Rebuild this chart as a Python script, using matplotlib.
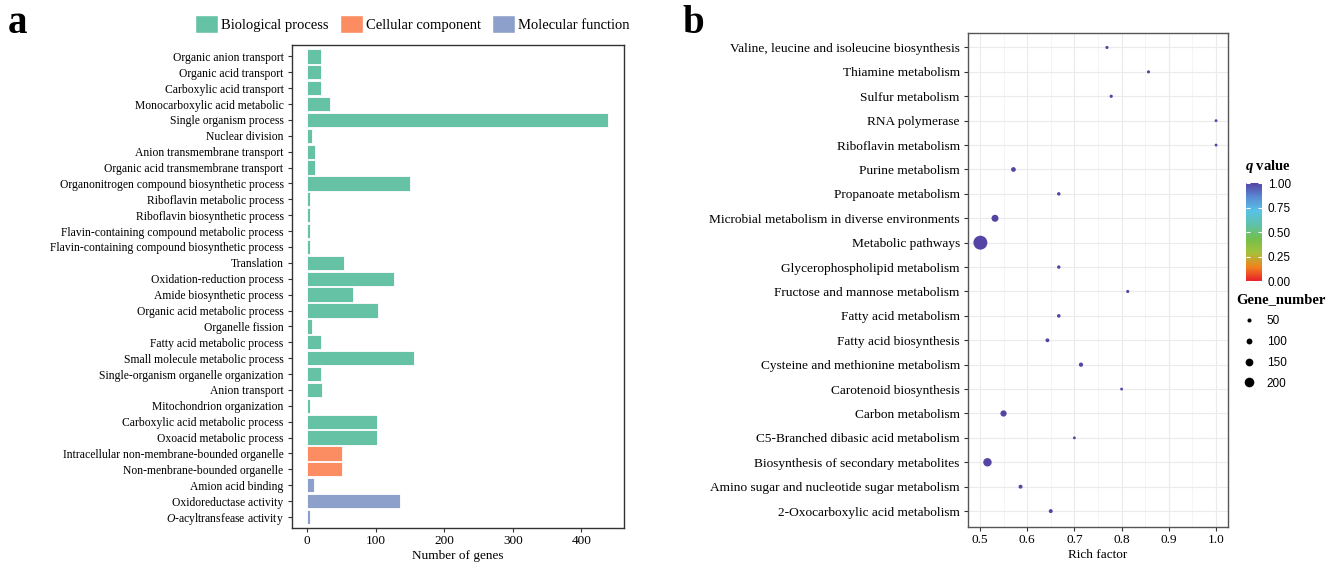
import numpy as np
import matplotlib
matplotlib.use("Agg")
import matplotlib.pyplot as plt
from matplotlib.patches import Patch
from matplotlib.lines import Line2D
from matplotlib.colors import LinearSegmentedColormap, Normalize
from matplotlib.cm import ScalarMappable
from matplotlib.ticker import MultipleLocator

plt.rcParams['font.family'] = ['Liberation Serif', 'DejaVu Serif']
plt.rcParams['mathtext.fontset'] = 'custom'
plt.rcParams['mathtext.rm'] = 'Liberation Serif'
plt.rcParams['mathtext.it'] = 'Liberation Serif:italic'
plt.rcParams['mathtext.bf'] = 'Liberation Serif:bold'
plt.rcParams['mathtext.bfit'] = 'Liberation Serif:italic:bold'

# GO enrichment (panel a)
go_terms = [
    "Organic anion transport", "Organic acid transport", "Carboxylic acid transport",
    "Monocarboxylic acid metabolic", "Single organism process", "Nuclear division",
    "Anion transmembrane transport", "Organic acid transmembrane transport",
    "Organonitrogen compound biosynthetic process", "Riboflavin metabolic process",
    "Riboflavin biosynthetic process", "Flavin-containing compound metabolic process",
    "Flavin-containing compound biosynthetic process", "Translation",
    "Oxidation-reduction process", "Amide biosynthetic process",
    "Organic acid metabolic process", "Organelle fission", "Fatty acid metabolic process",
    "Small molecule metabolic process", "Single-organism organelle organization",
    "Anion transport", "Mitochondrion organization", "Carboxylic acid metabolic process",
    "Oxoacid metabolic process", "Intracellular non-membrane-bounded organelle",
    "Non-menbrane-bounded organelle", "Amion acid binding", "Oxidoreductase activity",
    r"$\mathit{O}$-acyltransfease activity",
]
go_counts = [20, 20, 20, 34, 438, 8, 11, 11, 150, 5, 5, 5, 5, 54, 127, 67,
             104, 8, 21, 156, 20, 22, 5, 102, 102, 51, 51, 10, 135, 5]
go_class = ["BP"] * 25 + ["CC"] * 2 + ["MF"] * 3
class_names = {"BP": "Biological process", "CC": "Cellular component", "MF": "Molecular function"}
class_colors = {"BP": "#66C2A5", "CC": "#FC8D62", "MF": "#8DA0CB"}

# KEGG enrichment (panel b)
pathways = [
    "Valine, leucine and isoleucine biosynthesis", "Thiamine metabolism",
    "Sulfur metabolism", "RNA polymerase", "Riboflavin metabolism",
    "Purine metabolism", "Propanoate metabolism",
    "Microbial metabolism in diverse environments", "Metabolic pathways",
    "Glycerophospholipid metabolism", "Fructose and mannose metabolism",
    "Fatty acid metabolism", "Fatty acid biosynthesis",
    "Cysteine and methionine metabolism", "Carotenoid biosynthesis",
    "Carbon metabolism", "C5-Branched dibasic acid metabolism",
    "Biosynthesis of secondary metabolites",
    "Amino sugar and nucleotide sugar metabolism", "2-Oxocarboxylic acid metabolism",
]
rich_factor = [0.769, 0.857, 0.778, 1.0, 1.0, 0.571, 0.667, 0.532, 0.501, 0.667,
               0.813, 0.667, 0.643, 0.714, 0.800, 0.550, 0.700, 0.516, 0.586, 0.650]
gene_number = [25, 25, 28, 18, 18, 68, 35, 130, 317, 35,
               25, 38, 45, 55, 18, 110, 18, 168, 48, 48]
q_value = [1.0] * 20
size_breaks = [50, 100, 150, 200]
q_ticks = [0.0, 0.25, 0.5, 0.75, 1.0]

q_cmap = LinearSegmentedColormap.from_list(
    "qcol", ["#E8202A", "#F1821F", "#A5C23A", "#74BF4C", "#5FC1A8",
             "#58C3E4", "#5A8BD4", "#5544A4"])


def dot_pt(n):
    # marker diameter in points for a gene count
    return (2.2 + 0.037 * np.asarray(n, dtype=float)) * 0.72


fig = plt.figure(figsize=(13.39, 5.66), dpi=100)

# ---- panel a
ax1 = fig.add_axes([0.218, 0.067, 0.248, 0.853])
ypos = np.arange(len(go_terms))[::-1]
ax1.barh(ypos, go_counts, height=0.9, color=[class_colors[c] for c in go_class],
         edgecolor="white", linewidth=0.6)
ax1.set_yticks(ypos)
ax1.set_yticklabels(go_terms, fontsize=8.4)
ax1.set_ylim(-0.7, len(go_terms) - 0.3)
ax1.set_xlim(-22, 462)
ax1.set_xticks([0, 100, 200, 300, 400])
ax1.tick_params(axis="x", labelsize=9.5, length=3, color="#333333", pad=2)
ax1.tick_params(axis="y", length=3, color="#333333", pad=3)
ax1.set_xlabel("Number of genes", fontsize=9.5, labelpad=2)
for sp in ax1.spines.values():
    sp.set_color("#333333")
    sp.set_linewidth(1.0)

handles = [Patch(facecolor=class_colors[k], edgecolor="white") for k in ["BP", "CC", "MF"]]
fig.legend(handles, [class_names[k] for k in ["BP", "CC", "MF"]], ncol=3,
           loc="center left", bbox_to_anchor=(0.146, 0.957), frameon=False,
           fontsize=10.5, handlelength=1.55, handleheight=1.55, handletextpad=0.2,
           columnspacing=0.8, borderaxespad=0, borderpad=0)

fig.text(0.006, 0.942, "a", fontsize=28, fontweight="bold")
fig.text(0.510, 0.942, "b", fontsize=28, fontweight="bold")

# ---- panel b
ax2 = fig.add_axes([0.723, 0.069, 0.194, 0.873])
kpos = np.arange(len(pathways))[::-1]
ax2.scatter(rich_factor, kpos, s=dot_pt(gene_number) ** 2, c=q_value,
            cmap=q_cmap, vmin=0, vmax=1, zorder=3, linewidths=0)
ax2.set_yticks(kpos)
ax2.set_yticklabels(pathways, fontsize=9.6)
ax2.set_ylim(-0.65, len(pathways) - 0.4)
ax2.set_xlim(0.475, 1.025)
ax2.set_xticks(np.arange(0.5, 1.01, 0.1))
ax2.set_xticklabels(["0.5", "0.6", "0.7", "0.8", "0.9", "1.0"])
ax2.xaxis.set_minor_locator(MultipleLocator(0.05))
ax2.grid(True, which="major", color="#EBEBEB", linewidth=0.8, zorder=0)
ax2.grid(True, which="minor", axis="x", color="#F2F2F2", linewidth=0.5, zorder=0)
ax2.set_axisbelow(True)
ax2.tick_params(axis="x", which="major", labelsize=9.5, length=3, color="#333333", pad=2)
ax2.tick_params(axis="x", which="minor", length=0)
ax2.tick_params(axis="y", length=3, color="#333333", pad=3)
ax2.set_xlabel("Rich factor", fontsize=9.5, labelpad=2)
for sp in ax2.spines.values():
    sp.set_color("#555555")
    sp.set_linewidth(1.0)

# colour bar for q value
cax = fig.add_axes([0.9306, 0.5035, 0.012, 0.173])
cb = fig.colorbar(ScalarMappable(norm=Normalize(0, 1), cmap=q_cmap), cax=cax)
cb.outline.set_visible(False)
cb.set_ticks(q_ticks)
cb.set_ticklabels(["%.2f" % t for t in q_ticks])
cax.tick_params(direction="in", color="white", length=3, width=0.8, pad=4,
                labelsize=8.5, left=True)
for lab in cax.get_yticklabels():
    lab.set_family(["Liberation Sans", "DejaVu Sans"])
fig.text(0.9298, 0.700, r"$\mathbfit{q}$ value", fontsize=10.5, fontweight="bold")

# size legend for gene number
size_handles = [Line2D([], [], marker="o", ls="", color="black", markeredgewidth=0,
                       markersize=float(dot_pt(b))) for b in size_breaks]
leg = fig.legend(size_handles, [str(b) for b in size_breaks], loc="upper left",
                 bbox_to_anchor=(0.923, 0.482), frameon=False, title="Gene_number",
                 prop={"family": ["Liberation Sans", "DejaVu Sans"], "size": 8.5},
                 title_fontproperties={"family": "Liberation Serif", "weight": "bold", "size": 10.5},
                 handlelength=2.3, handletextpad=0.3, labelspacing=0.75,
                 borderaxespad=0, borderpad=0)
leg._legend_box.align = "left"

fig.savefig("out.png", dpi=100)
